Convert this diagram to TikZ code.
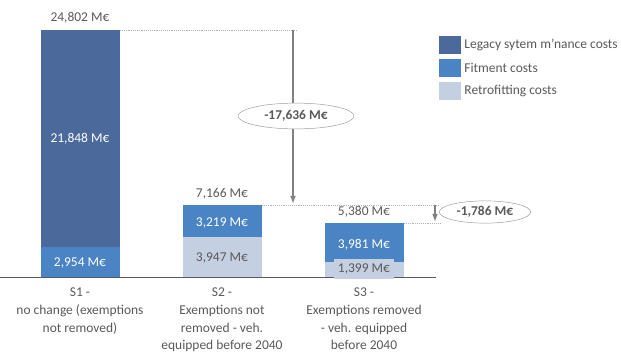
\documentclass[tikz,border=0pt]{standalone}
\usepackage{fontspec}
\setmainfont{Carlito}
\usetikzlibrary{calc,shapes.geometric,arrows.meta}
\definecolor{legacyblue}{HTML}{4B6A9B}
\definecolor{fitblue}{HTML}{4A84C4}
\definecolor{retroblue}{HTML}{C5CFE2}
\definecolor{txtgray}{HTML}{595959}
\def\basefont{\fontsize{11.5}{13}\selectfont}
\tikzset{bar label/.style={text=white,inner sep=1},
         sum label/.style={text=txtgray,inner sep=1},
         delta label/.style={ellipse,draw=gray!80,fill=white,text=txtgray,font=\basefont\bfseries,inner xsep=-8pt,inner ysep=0},
         guide/.style={densely dotted,gray!60,line width=0.6pt},
         drop/.style={gray,line width=1.2pt,-{Latex[length=7pt,width=5pt]}},
         cat label/.style={text=txtgray,align=center,font=\fontsize{11.5}{15}\selectfont},
         key box/.style={minimum width=18,minimum height=15,inner sep=0}}

\begin{document}
\begin{tikzpicture}[x=0.03cm,y=-0.03cm,font=\basefont]

  \useasboundingbox (0,0) rectangle (621,355);

  % bars
  \fill[legacyblue] (41,30)   rectangle (120,247);
  \fill[fitblue]    (41,247)  rectangle (120,277);
  \fill[fitblue]    (183,205) rectangle (262,237);
  \fill[retroblue]  (183,237) rectangle (262,277);
  \fill[fitblue]    (325,223) rectangle (404,262);
  \fill[retroblue]  (325,262) rectangle (404,277);

  \coordinate (axisL) at (0,277);
  \coordinate (axisR) at (436,277);
  \draw[txtgray,line width=0.8pt] (axisL) -- (axisR);

  % values
  \node[sum label] (s1sum) at (80,18)  {24,802 M€};
  \node[bar label] (s1leg) at (80,139) {21,848 M€};
  \node[bar label] (s1fit) at (80,263) {2,954 M€};

  \node[sum label] (s2sum) at (222,194) {7,166 M€};
  \node[bar label] (s2fit) at (222,223) {3,219 M€};
  \node[sum label] (s2ret) at (222,258) {3,947 M€};

  \node[sum label] (s3sum) at (364,212) {5,380 M€};
  \node[bar label] (s3fit) at (364,245) {3,981 M€};
  \node[sum label,fill=retroblue,inner xsep=3,minimum height=17] (s3ret) at (364,269) {1,399 M€};

  % differences
  \coordinate (s1top) at (120,30);
  \coordinate (gapA)  at (297,30);
  \coordinate (dropA) at (293,30);
  \coordinate (s2lvl) at (293,204);
  \draw[guide] (s1top) -- (gapA);
  \draw[drop] (dropA) -- (s2lvl);
  \node[delta label,minimum width=99,minimum height=22] (dA) at (296,116) {-17,636 M€};

  \coordinate (s2top) at (262,205);
  \coordinate (gapB)  at (440,205);
  \coordinate (s3top) at (404,223);
  \coordinate (gapC)  at (440,223);
  \coordinate (dropB) at (435,205);
  \coordinate (s3lvl) at (435,222);
  \draw[guide] (s2top) -- (gapB);
  \draw[guide] (s3top) -- (gapC);
  \draw[drop] (dropB) -- (s3lvl);
  \node[delta label,minimum width=78,minimum height=19] (dB) at (485,212) {-1,786 M€};

  % categories
  \node[cat label,anchor=north] (s1cat) at (80,284)  {S1 -\\no change (exemptions\\not removed)};
  \node[cat label,anchor=north] (s2cat) at (222,284) {S2 -\\Exemptions not\\removed - veh.\\equipped before 2040};
  \node[cat label,anchor=north] (s3cat) at (364,284) {S3 -\\Exemptions removed\\- veh. equipped\\before 2040};

  % legend
  \node[key box,fill=legacyblue] (kLeg) at (450,45) {};
  \node[key box,fill=fitblue]    (kFit) at (450,68) {};
  \node[key box,fill=retroblue]  (kRet) at (450,91) {};
  \node[sum label,anchor=west] (tLeg) at (463,45) {Legacy sytem m’nance costs};
  \node[sum label,anchor=west] (tFit) at (463,68) {Fitment costs};
  \node[sum label,anchor=west] (tRet) at (463,91) {Retrofitting costs};

\end{tikzpicture}
\end{document}
